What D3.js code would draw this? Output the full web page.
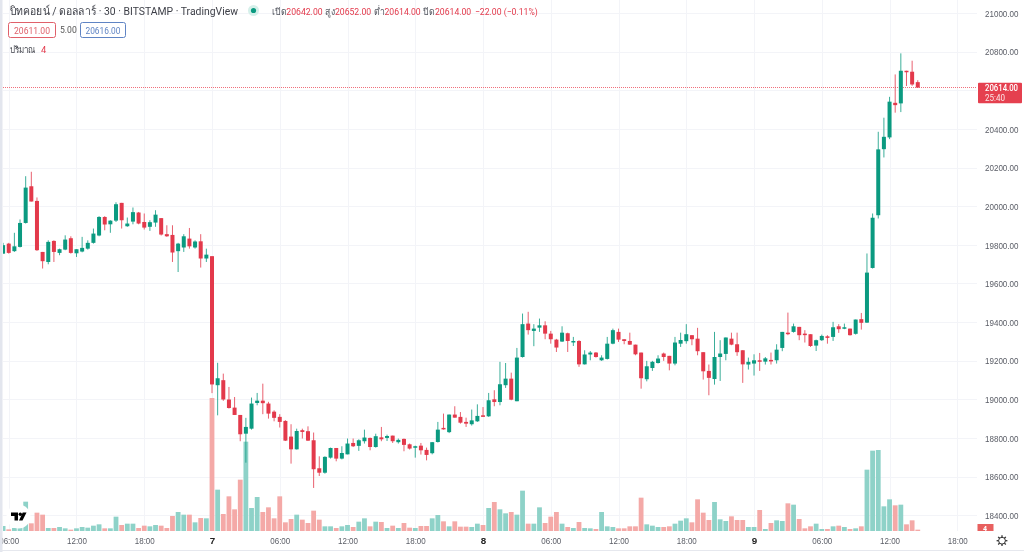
<!DOCTYPE html>
<html lang="th">
<head>
<meta charset="utf-8">
<script src="https://d3js.org/d3.v7.min.js"></script>
<style>
html,body{margin:0;padding:0;background:#fff;overflow:hidden}
svg{display:block;font-family:Roboto,"Noto Sans","DejaVu Sans",sans-serif;filter:blur(.35px)}
.domain{display:none}
.tick line{display:none}
</style>
</head>
<body>
<svg id="c" width="1024" height="552"></svg>
<script>
// Bar index 0 is the 30-minute bar at 00:00 on day 7; indices run -37 ... 125.
const firstBar = -37;
const opens = [
19754,19806,19767,19789,19913,20103,20027,19763,19711,19820,19758,19775,19834,19756,19765,19780,19810,19848,19944,19906,19925,20017,19896,19920,19967,19918,19893,19915,19938,19855,19851,19767,19786,19832,19786,19818,19729,
19741,19073,19099,18999,18957,18919,18822,18848,18981,18993,18978,18936,18909,18888,18807,18741,18840,18835,18788,18643,18620,18698,18748,18693,18715,18774,18759,18783,18800,18753,18803,18800,18812,18778,18795,18767,18750,18760,18738,18721,18779,18852,
18830,18921,18909,18883,18871,18886,18917,18912,19000,18986,19073,19107,18990,19219,19392,19354,19371,19383,19340,19309,19299,19342,19299,19302,19181,19232,19242,19202,19209,19288,19349,19311,19302,19283,19242,19104,19162,19188,
19237,19225,19185,19288,19301,19332,19314,19244,19147,19105,19219,19235,19314,19285,19254,19180,19185,19202,19195,19204,19202,19266,19345,19349,19375,19340,19337,19278,19306,19326,19323,19378,19368,19366,19339,19415,
19397,19680,19953,20295,20356,20535,20532,20701,20696,20642];
const highs = [
19810,19810,19862,19931,20155,20178,20045,19763,19823,19823,19780,19849,19844,19777,19841,19823,19884,19948,19948,19927,20020,20017,19941,19993,19970,19962,19927,19979,19938,19901,19901,19810,19855,19887,19823,19855,19780,
19741,19189,19133,19064,19012,18919,18904,19009,19033,19081,18987,18943,18923,18892,18871,18848,18848,18860,18828,18705,18705,18750,18748,18757,18797,18797,18793,18843,18802,18822,18857,18817,18812,18797,18797,18771,18760,18774,18750,18779,18883,18926,
18921,18964,18934,18905,18947,18974,18960,19033,19047,19194,19188,19138,19266,19444,19453,19389,19418,19404,19354,19313,19378,19345,19323,19306,19254,19250,19245,19228,19323,19366,19366,19311,19345,19283,19242,19199,19199,19228,
19242,19225,19323,19345,19389,19332,19370,19244,19180,19349,19306,19320,19345,19345,19254,19216,19233,19240,19219,19242,19285,19349,19449,19392,19375,19358,19337,19309,19335,19332,19401,19389,19392,19366,19413,19447,
19755,19962,20385,20458,20566,20682,20791,20701,20753,20652];
const lows = [
19754,19754,19763,19786,19910,20024,19768,19677,19699,19711,19746,19772,19754,19737,19761,19775,19806,19844,19875,19862,19918,19884,19893,19906,19906,19879,19872,19893,19848,19841,19711,19659,19763,19780,19780,19682,19711,
19032,18917,18992,18952,18919,18783,18672,18843,18969,18923,18900,18886,18854,18784,18667,18740,18797,18784,18541,18603,18615,18693,18679,18689,18715,18753,18733,18771,18736,18750,18783,18784,18774,18771,18731,18740,18698,18714,18684,18715,18776,18843,
18825,18905,18874,18857,18864,18883,18909,18909,18964,18969,19059,18995,18990,19216,19335,19275,19349,19311,19288,19245,19297,19245,19276,19168,19180,19202,19216,19199,19206,19285,19297,19285,19282,19228,19055,19093,19147,19185,
19199,19150,19176,19271,19288,19280,19228,19102,19021,19076,19095,19202,19280,19225,19085,19154,19123,19147,19180,19180,19185,19249,19332,19345,19306,19294,19271,19250,19302,19288,19302,19344,19363,19330,19335,19361,
19395,19677,19936,20252,20347,20484,20487,20622,20623,20614];
const closes = [
19798,19758,19792,19913,20096,20024,19772,19715,19815,19763,19777,19827,19758,19777,19784,19810,19858,19944,19905,19925,20010,19927,19910,19969,19910,19889,19917,19956,19853,19844,19760,19806,19844,19792,19817,19729,19749,
19077,19109,18999,18955,18919,18819,18857,18978,18993,18980,18926,18904,18883,18786,18741,18836,18831,18786,18638,18620,18702,18748,18693,18722,18771,18757,18788,18802,18753,18809,18793,18810,18783,18790,18764,18745,18757,18736,18712,18778,18843,18846,
18921,18905,18879,18874,18891,18914,18910,18995,18986,19078,19107,18998,19216,19389,19358,19366,19383,19340,19311,19268,19345,19302,19302,19181,19232,19242,19219,19216,19288,19358,19309,19302,19283,19233,19109,19171,19194,19211,
19219,19185,19294,19307,19337,19311,19249,19145,19111,19219,19237,19320,19283,19244,19181,19194,19202,19197,19212,19200,19257,19349,19340,19378,19332,19335,19276,19306,19328,19318,19373,19363,19373,19332,19413,19396,
19656,19940,20294,20359,20541,20523,20701,20696,20630,20614];
const volumes = [
15,5,9,12,88,23,55,49,9,9,12,8,4,8,12,10,16,20,8,8,43,18,22,22,9,16,14,18,16,9,45,57,49,49,26,39,38,
399,124,51,104,65,154,268,69,102,57,71,38,104,26,36,49,34,24,61,34,14,14,9,14,18,12,28,38,14,28,27,9,16,9,24,10,9,15,15,38,48,29,
14,29,13,13,12,22,18,69,87,65,53,57,49,121,22,22,71,24,43,57,22,12,9,27,9,8,6,57,14,12,8,8,14,14,100,20,16,12,
12,14,22,31,38,26,95,55,33,87,35,30,44,33,33,12,12,63,6,24,32,30,83,79,36,8,14,22,6,6,14,16,12,6,8,14,
184,241,243,74,95,77,79,20,32,4];

const priceTicks = d3.range(18400, 21001, 200);
const hiddenPriceLabel = 20600; // sits behind the last-price tag
const priceLabelTicks = priceTicks.filter(p => p !== hiddenPriceLabel);
const timeTickBars = [-36,-24,-12,0,12,24,36,48,60,72,84,96,108,120,132];
const timeTickLabels = ["06:00","12:00","18:00","7","06:00","12:00","18:00","8","06:00","12:00","18:00","9","06:00","12:00","18:00"];
const dayLabels = ["7","8","9"];
const titleText = "บิทคอยน์ / ดอลลาร์ · 30 · BITSTAMP · TradingView";
const ohlcLabels = ["เปิด","สูง","ต่ำ","ปิด"];
const ohlcValues = ["20642.00","20652.00","20614.00","20614.00"];
const ohlcChange = "−22.00 (−0.11%)";
const lastPrice = 20614;

const upColor = "#0b9a80", downColor = "#e3394b";
const upVol = "#8ed2c8", downVol = "#f4a9a7";

const W = 1024, H = 552, plotRight = 977, axisTop = 531;
const x = d3.scaleLinear().domain([0, 132]).range([212, 957.3]);
const y = d3.scaleLinear().domain([18400, 21000]).range([515.2, 13]);
const yVol = d3.scaleLinear().domain([0, 399]).range([axisTop, 398]);

const data = opens.map((o, k) => ({
  i: k + firstBar, o, h: highs[k], l: lows[k], c: closes[k], v: volumes[k], up: closes[k] >= o
}));

const svg = d3.select("#c");
svg.append("rect").attr("width", W).attr("height", H).attr("fill", "#fff");
svg.append("defs").append("clipPath").attr("id", "plot")
  .append("rect").attr("x", 3).attr("y", 0).attr("width", plotRight - 3).attr("height", axisTop);

const grid = svg.append("g").attr("stroke", "#f3f4f8").attr("stroke-width", 1);
grid.selectAll(".h").data(priceTicks).join("line")
  .attr("x1", 3).attr("x2", plotRight)
  .attr("y1", d => Math.round(y(d)) + .5).attr("y2", d => Math.round(y(d)) + .5);
grid.selectAll(".v").data(timeTickBars).join("line")
  .attr("y1", 0).attr("y2", axisTop)
  .attr("x1", d => Math.round(x(d)) + .5).attr("x2", d => Math.round(x(d)) + .5);

svg.append("line").attr("x1", 3).attr("x2", plotRight)
  .attr("y1", Math.floor(y(lastPrice)) + .5).attr("y2", Math.floor(y(lastPrice)) + .5)
  .attr("stroke", "#f0707c").attr("stroke-width", 1).attr("stroke-dasharray", "1 1");

const plot = svg.append("g").attr("clip-path", "url(#plot)");
plot.append("g").selectAll("rect").data(data).join("rect")
  .attr("x", d => x(d.i) - 2.4).attr("width", 4.8)
  .attr("y", d => yVol(d.v)).attr("height", d => axisTop - yVol(d.v))
  .attr("fill", d => d.up ? upVol : downVol);

const candles = plot.append("g");
candles.selectAll("line").data(data).join("line")
  .attr("x1", d => x(d.i)).attr("x2", d => x(d.i))
  .attr("y1", d => y(d.h)).attr("y2", d => y(d.l))
  .attr("stroke", d => d.up ? upColor : downColor).attr("stroke-width", 1).attr("opacity", .8);
candles.selectAll("rect").data(data).join("rect")
  .attr("x", d => x(d.i) - 2).attr("width", 4)
  .attr("y", d => y(Math.max(d.o, d.c)))
  .attr("height", d => Math.max(1.5, Math.abs(y(d.o) - y(d.c))))
  .attr("fill", d => d.up ? upColor : downColor);

// TradingView badge
const logo = svg.append("g").attr("transform", "translate(18.5,516.5)");
logo.append("circle").attr("r", 12).attr("fill", "#fff");
logo.append("path").attr("fill", "#000").attr("d", "M-7.5,-4H-0.5V4H-4V-0.5H-7.5ZM4.2,-4H8L4,4H0.5Z");
logo.append("circle").attr("cx", 1.8).attr("cy", -2.3).attr("r", 1.7).attr("fill", "#000");

// Axes
const yAxis = d3.axisRight(y).tickValues(priceLabelTicks).tickFormat(d3.format(".2f")).tickSize(0).tickPadding(0);
svg.append("g").attr("transform", "translate(985,0)").call(yAxis)
  .call(g => g.selectAll("text").attr("font-size", 9.4).attr("fill", "#5a5d66").attr("dy", ".35em")
    .attr("textLength", 33.5).attr("lengthAdjust", "spacingAndGlyphs"));

const xAxis = d3.axisBottom(x).tickValues(timeTickBars)
  .tickFormat((d, k) => timeTickLabels[k]).tickSize(0).tickPadding(0);
const xg = svg.append("g").attr("transform", "translate(0,536.5)").call(xAxis);
xg.selectAll("text").attr("font-size", 9.8).attr("dy", ".75em")
  .attr("fill", (d, k) => dayLabels.includes(timeTickLabels[k]) ? "#222" : "#5a5d66")
  .attr("font-weight", (d, k) => dayLabels.includes(timeTickLabels[k]) ? 700 : 400)
  .each(function(d, k) {
    if (!dayLabels.includes(timeTickLabels[k]))
      d3.select(this).attr("textLength", 20).attr("lengthAdjust", "spacingAndGlyphs");
  });
svg.append("rect").attr("width", 2.5).attr("height", H).attr("fill", "#e3e6ee");
svg.append("line").attr("x1", 0).attr("x2", W).attr("y1", 550.5).attr("y2", 550.5).attr("stroke", "#e6e8ee");

// Last price tag
const tag = svg.append("g");
tag.append("rect").attr("x", 978).attr("y", 82.7).attr("width", 44).attr("height", 20.6).attr("rx", 1).attr("fill", "#e5404f");
tag.append("text").attr("x", 985).attr("y", 91).attr("font-size", 8.6).attr("font-weight", 500).attr("fill", "#fff")
  .attr("textLength", 33).attr("lengthAdjust", "spacingAndGlyphs").text(d3.format(".2f")(lastPrice));
tag.append("text").attr("x", 985).attr("y", 101.3).attr("font-size", 8.6).attr("fill", "#fde6e8")
  .attr("textLength", 20).attr("lengthAdjust", "spacingAndGlyphs").text("25:40");

// Volume tag
svg.append("rect").attr("x", 977.5).attr("y", 524).attr("width", 16).attr("height", 7).attr("fill", "#e8605f");
svg.append("text").attr("x", 983).attr("y", 530.5).attr("font-size", 7).attr("font-weight", 700).attr("fill", "#fff").text("4");

// Settings gear
const gear = svg.append("g").attr("transform", "translate(1002,540.7)").attr("fill", "none").attr("stroke", "#333");
gear.append("circle").attr("r", 3.4).attr("stroke-width", 1);
gear.selectAll("line").data(d3.range(0, 360, 45)).join("line")
  .attr("y1", -3.4).attr("y2", -5.4).attr("stroke-width", 1.3).attr("transform", d => `rotate(${d})`);

// Header
svg.append("text").attr("x", 10).attr("y", 15).attr("font-size", 11.8).attr("fill", "#3d3f47")
  .attr("textLength", 228).attr("lengthAdjust", "spacingAndGlyphs").text(titleText);
svg.append("circle").attr("cx", 253.5).attr("cy", 10.5).attr("r", 5.5).attr("fill", "#d5f0ea");
svg.append("circle").attr("cx", 253.5).attr("cy", 10.5).attr("r", 2.6).attr("fill", "#0b9a80");

const ohlc = svg.append("text").attr("transform", "translate(272,14.5) scale(.92,1)").attr("font-size", 9.4);
ohlcLabels.forEach((lab, k) => {
  ohlc.append("tspan").attr("fill", "#50535c").attr("dx", k ? 3 : 0).text(lab);
  ohlc.append("tspan").attr("fill", "#e3394b").text(ohlcValues[k]);
});
ohlc.append("tspan").attr("fill", "#e3394b").attr("dx", 4).text(ohlcChange);

const priceBox = (bx, bw, color, textW, label) => {
  svg.append("rect").attr("x", bx + .5).attr("y", 22.5).attr("width", bw).attr("height", 15).attr("rx", 2)
    .attr("fill", "#fff").attr("stroke", color);
  svg.append("text").attr("x", bx + bw / 2 + .5).attr("y", 33.7).attr("text-anchor", "middle")
    .attr("font-size", 9.6).attr("fill", color)
    .attr("textLength", textW).attr("lengthAdjust", "spacingAndGlyphs").text(label);
};
priceBox(8, 47, "#e0606a", 36, "20611.00");
priceBox(80, 45, "#5f84c4", 35, "20616.00");
svg.append("text").attr("x", 60).attr("y", 33.3).attr("font-size", 8.6).attr("fill", "#555").text("5.00");

svg.append("text").attr("x", 9.5).attr("y", 52.5).attr("font-size", 9.4).attr("fill", "#3d3f47")
  .attr("textLength", 26).attr("lengthAdjust", "spacingAndGlyphs").text("ปริมาณ");
svg.append("text").attr("x", 41).attr("y", 52.5).attr("font-size", 9.4).attr("fill", "#e3394b").text("4");
</script>
</body>
</html>
